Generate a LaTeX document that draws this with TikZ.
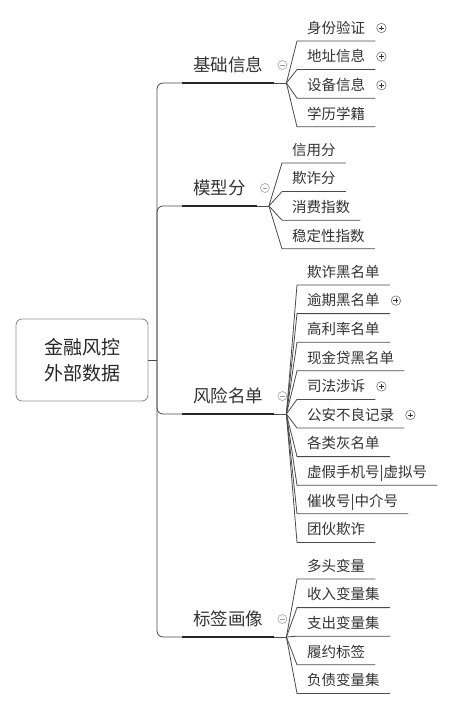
\documentclass[tikz,border=0pt]{standalone}
\usepackage{fontspec}
\newfontfamily\cjk{Noto Sans CJK SC}
\usetikzlibrary{positioning}
\definecolor{ink}{HTML}{333333}
\definecolor{wire}{HTML}{4A4A4A}
\definecolor{knob}{HTML}{A0A0A0}

\tikzset{
  root/.style={draw=gray!85, rounded corners=6pt, line width=0.9pt, minimum width=132pt, minimum height=82pt,
    align=center, font=\cjk\fontsize{19}{26}\selectfont, text=black!85},
  topic/.style={anchor=south west, inner xsep=11pt, inner ysep=8pt, text height=13pt, text depth=3pt,
    font=\cjk\fontsize{17.5}{20}\selectfont, text=ink},
  leaf/.style={anchor=south west, inner xsep=10pt, inner ysep=5pt, text height=11pt, text depth=2.5pt,
    font=\cjk\fontsize{14.5}{17}\selectfont, text=ink},
  wire/.style={draw=wire, line width=0.8pt},
  bar/.style={draw=black!85, line width=2.6pt},
  minus/.style={circle, draw=knob, line width=0.6pt, minimum size=9pt, inner sep=0pt,
    path picture={\draw[knob, line width=0.6pt] ([xshift=2.2pt]path picture bounding box.west) -- ([xshift=-2.2pt]path picture bounding box.east);}},
  plus/.style={circle, draw=black!55, line width=0.6pt, minimum size=9.5pt, inner sep=0pt,
    path picture={\draw[black!80, line width=0.7pt] ([xshift=2.3pt]path picture bounding box.west) -- ([xshift=-2.3pt]path picture bounding box.east)
      ([yshift=-2.3pt]path picture bounding box.north) -- ([yshift=2.3pt]path picture bounding box.south);}}
}

\begin{document}
\begin{tikzpicture}[x=1pt,y=-1pt]
\useasboundingbox (0,0) rectangle (452,708);

\node[root] (root) at (82,360) {金融风控\\外部数据};
\coordinate (hub) at (157,360);
\draw[wire] (root.east) -- (hub);

\node[topic] (jichu) at (182,83) {基础信息};
\node[topic] (moxing) at (182,206) {模型分};
\node[topic] (fengxian) at (182,414) {风险名单};
\node[topic] (biaoqian) at (182,637) {标签画像};

\foreach \b in {jichu,moxing,fengxian,biaoqian}{
  \draw[wire, rounded corners=6pt] (hub) |- (\b.south west);
  \draw[bar] (\b.south west) -- (\b.south east);
  \coordinate (\b-f) at ([xshift=12pt]\b.south east);
  \draw[wire] (\b.south east) -- (\b-f);
  \node[minus] (\b-m) at ([xshift=8pt,yshift=18pt]\b.south east) {};
}

\foreach \s [count=\n from 0] in {身份验证,地址信息,设备信息,学历学籍}{
  \node[leaf] (jichu-\n) at (297,41+28.6*\n) {\s};
  \draw[wire] (jichu-f) -- (jichu-\n.south west) -- (jichu-\n.south east);
}
\foreach \s [count=\n from 0] in {信用分,欺诈分,消费指数,稳定性指数}{
  \node[leaf] (moxing-\n) at (282,163+28.6*\n) {\s};
  \draw[wire] (moxing-f) -- (moxing-\n.south west) -- (moxing-\n.south east);
}
\foreach \s [count=\n from 0] in {欺诈黑名单,逾期黑名单,高利率名单,现金贷黑名单,司法涉诉,公安不良记录,各类灰名单,虚假手机号|虚拟号,催收号|中介号,团伙欺诈}{
  \node[leaf] (fengxian-\n) at (297,285+28.6*\n) {\s};
  \draw[wire] (fengxian-f) -- (fengxian-\n.south west) -- (fengxian-\n.south east);
}
\foreach \s [count=\n from 0] in {多头变量,收入变量集,支出变量集,履约标签,负债变量集}{
  \node[leaf] (biaoqian-\n) at (297,579+28.6*\n) {\s};
  \draw[wire] (biaoqian-f) -- (biaoqian-\n.south west) -- (biaoqian-\n.south east);
}

\foreach \l in {jichu-0,jichu-1,jichu-2,fengxian-1,fengxian-4,fengxian-5}
  \node[plus] (\l-p) at ([xshift=6pt,yshift=13pt]\l.south east) {};
\end{tikzpicture}
\end{document}
